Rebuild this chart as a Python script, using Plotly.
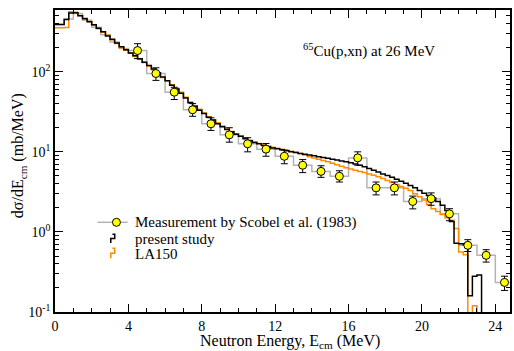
import plotly.graph_objects as go

# ---------------- data ----------------
BIN = 0.25
# present study (black histogram), 0.25 MeV bins starting at 0
present_vals = [390, 390, 450, 540, 545, 500, 460, 420, 385, 350, 315, 280, 255, 228, 205, 188,
                172, 158, 145, 131, 120, 108, 97, 86, 77, 68, 61, 54, 47, 41, 37, 33,
                30, 27, 25, 22.5, 20.5, 19, 17.8, 16.6, 15.6, 14.6, 13.8, 13.1, 12.6, 12.0, 11.6, 11.2,
                10.9, 10.6, 10.3, 10.0, 9.8, 9.55, 9.35, 9.15, 8.95, 8.7, 8.5, 8.3, 8.1, 7.9, 7.7, 7.5,
                7.3, 7.05, 6.8, 6.5, 6.2, 5.9, 5.6, 5.3, 5.05, 4.8, 4.55, 4.3, 4.05, 3.8, 3.55, 3.3,
                3.05, 2.85, 2.65, 2.4, 2.15, 1.85, 1.35, 0.72, 0.71, 0.69, 0.16, 0.28, 0.29, 0.001]
# LA150 (orange histogram), 0.25 MeV bins starting at 0
la150_vals = [355, 355, 358, 560, 555, 505, 465, 425, 380, 345, 312, 285, 250, 225, 200, 185,
              170, 155, 143, 130, 118, 106, 96, 85, 77, 69, 62, 55, 48, 42, 37.5, 34,
              30.5, 27.5, 25, 23, 21, 19.3, 18, 16.8, 15.8, 14.8, 14.0, 13.3, 12.7, 12.2, 11.8, 11.4,
              11.1, 10.8, 10.5, 10.2, 9.85, 9.5, 9.1, 8.7, 8.4, 8.1, 7.8, 7.5, 7.2, 6.9, 6.6, 6.35,
              6.1, 5.9, 5.7, 5.5, 5.3, 5.1, 4.9, 4.65, 4.4, 4.15, 3.9, 3.7, 3.5, 3.3, 3.0, 2.75,
              2.5, 2.2, 1.95, 1.8, 1.65, 1.5, 1.4, 1.1, 0.56, 0.52, 0.001, 0.12, 0.001]

# Measurement by Scobel et al. (1983)
meas_x = [4.5, 5.5, 6.5, 7.5, 8.5, 9.5, 10.5, 11.5, 12.5, 13.5, 14.5, 15.5, 16.5, 17.5, 18.5,
          19.5, 20.5, 21.5, 22.5, 23.5, 24.5]
meas_y = [184, 95, 55.6, 33.5, 22.4, 16.3, 12.6, 10.8, 8.8, 6.8, 5.7, 4.95, 8.4, 3.55, 3.55,
          2.4, 2.6, 1.68, 0.68, 0.51, 0.234]
meas_hi = [224, 112, 64, 40, 26.6, 20, 15, 12.7, 10.5, 8.0, 6.7, 5.8, 10, 4.2, 4.2,
           2.8, 3.07, 1.95, 0.8, 0.60, 0.28]
meas_lo = [146, 78, 45, 27.8, 18.5, 13.2, 10, 8.8, 7.1, 5.5, 4.8, 4.2, 6.8, 2.9, 2.9,
           1.94, 2.15, 1.38, 0.57, 0.42, 0.186]
MEAS_BIN = 1.0
# low-energy part of the measured spectrum (no symbols), 0.5 MeV bins
meas_low_edges = [0.0, 0.5, 1.0, 1.5, 2.0, 2.5, 3.0, 3.5]
meas_low_vals = [390, 455, 535, 440, 360, 290, 235, 195]

x_ticks = [0, 4, 8, 12, 16, 20, 24]
y_ticks = [0.1, 1, 10, 100]
y_ticktext = ["10<sup>-1</sup>", "10<sup>0</sup>", "10<sup>1</sup>", "10<sup>2</sup>"]

# ---------------- helpers ----------------
def hist_xy(vals, width, start=0.0):
    xs = [start + i * width for i in range(len(vals))] + [start + len(vals) * width]
    ys = list(vals) + [vals[-1]]
    return xs, ys

bx, by = hist_xy(present_vals, BIN)
ox, oy = hist_xy(la150_vals, BIN)
gx = meas_low_edges + [m - MEAS_BIN / 2 for m in meas_x] + [meas_x[-1] + MEAS_BIN / 2]
gy = meas_low_vals + meas_y + [meas_y[-1]]

FONT = "'Liberation Serif', 'Times New Roman', Times, serif"
GRAY = "#b4b4b4"
ORANGE = "#ff8c00"

fig = go.Figure()
fig.add_trace(go.Scatter(x=gx, y=gy, mode="lines", line=dict(color=GRAY, width=1.5, shape="hv"),
                         hoverinfo="skip"))
fig.add_trace(go.Scatter(x=ox, y=oy, mode="lines", line=dict(color=ORANGE, width=1.5, shape="hv")))
fig.add_trace(go.Scatter(x=bx, y=by, mode="lines", line=dict(color="black", width=1.5, shape="hv")))
fig.add_trace(go.Scatter(
    x=meas_x, y=meas_y, mode="markers",
    marker=dict(symbol="circle", size=8, color="#ffff00", line=dict(color="black", width=1)),
    error_y=dict(type="data", symmetric=False,
                 array=[h - v for h, v in zip(meas_hi, meas_y)],
                 arrayminus=[v - l for v, l in zip(meas_y, meas_lo)],
                 color="black", thickness=1, width=3.5),
))

L, R, T, B = 55, 2, 10, 39
W, H = 514, 351
pw, ph = W - L - R, H - T - B

def px(xp):
    return (xp - L) / pw

def py(yp):
    return (H - B - yp) / ph

minor_y = [m * 10 ** e for e in (-1, 0, 1, 2) for m in range(2, 10)]

fig.update_layout(
    width=W, height=H, margin=dict(l=L, r=R, t=T, b=B),
    paper_bgcolor="white", plot_bgcolor="white", showlegend=False,
    font=dict(family=FONT, color="black", size=14),
    xaxis=dict(range=[0, 24.8], showgrid=False, zeroline=False, showline=True, linecolor="black",
               linewidth=1.5, mirror="ticks", ticks="inside", ticklen=8, tickwidth=1, tickcolor="black",
               tickvals=x_ticks, ticktext=[str(v) for v in x_ticks], tickfont=dict(size=14, family=FONT),
               minor=dict(ticks="inside", ticklen=4, tickwidth=1, tickcolor="black", dtick=1)),
    yaxis=dict(type="log", range=[-1, 2.771], showgrid=False, zeroline=False, showline=True,
               linecolor="black", linewidth=1.5, mirror="ticks", ticks="inside", ticklen=8, tickwidth=1,
               tickcolor="black", tickvals=y_ticks, ticktext=y_ticktext, tickfont=dict(size=14, family=FONT),
               minor=dict(ticks="inside", ticklen=4, tickwidth=1, tickcolor="black", tickvals=minor_y)),
)

ann = [
    dict(text="Neutron Energy, E<sub>cm</sub> (MeV)", x=px(291.5), y=py(341.5), font=dict(size=16)),
    dict(text="dσ/dE<sub>cm</sub> (mb/MeV)", x=px(18), y=py(156), textangle=-90, font=dict(size=16)),
    dict(text="<sup>65</sup>Cu(p,xn) at 26 MeV", x=px(370.5), y=py(50), font=dict(size=15)),
    dict(text="Measurement by Scobel et al. (1983)", x=px(133), y=py(222.3), xanchor="left",
         font=dict(size=15)),
    dict(text="present study", x=px(133), y=py(238.8), xanchor="left", font=dict(size=15)),
    dict(text="LA150", x=px(133), y=py(253.5), xanchor="left", font=dict(size=15)),
]
for a in ann:
    a.setdefault("xanchor", "center")
    a["font"]["family"] = FONT
    fig.add_annotation(xref="paper", yref="paper", showarrow=False, yanchor="middle", **a)

def path(pts):
    return "M " + " L ".join(f"{px(a):.5f} {py(b):.5f}" for a, b in pts)

fig.add_shape(type="line", xref="paper", yref="paper", x0=px(97.7), x1=px(128), y0=py(222.3), y1=py(222.3),
              line=dict(color=GRAY, width=1.5))
fig.add_shape(type="circle", xref="paper", yref="paper", xsizemode="pixel", ysizemode="pixel",
              xanchor=px(116.7), yanchor=py(222.3), x0=-4, x1=4, y0=-4, y1=4,
              fillcolor="#ffff00", line=dict(color="black", width=1))
fig.add_shape(type="path", xref="paper", yref="paper",
              path=path([(111, 243), (111, 238.5), (115, 238.5), (115, 234.3), (112.7, 234.3)]),
              line=dict(color="black", width=1.5))
fig.add_shape(type="path", xref="paper", yref="paper",
              path=path([(111, 258.3), (111, 253.3), (115, 253.3), (115, 248.3), (112.7, 248.3)]),
              line=dict(color=ORANGE, width=1.5))

fig.write_html("out.html")
